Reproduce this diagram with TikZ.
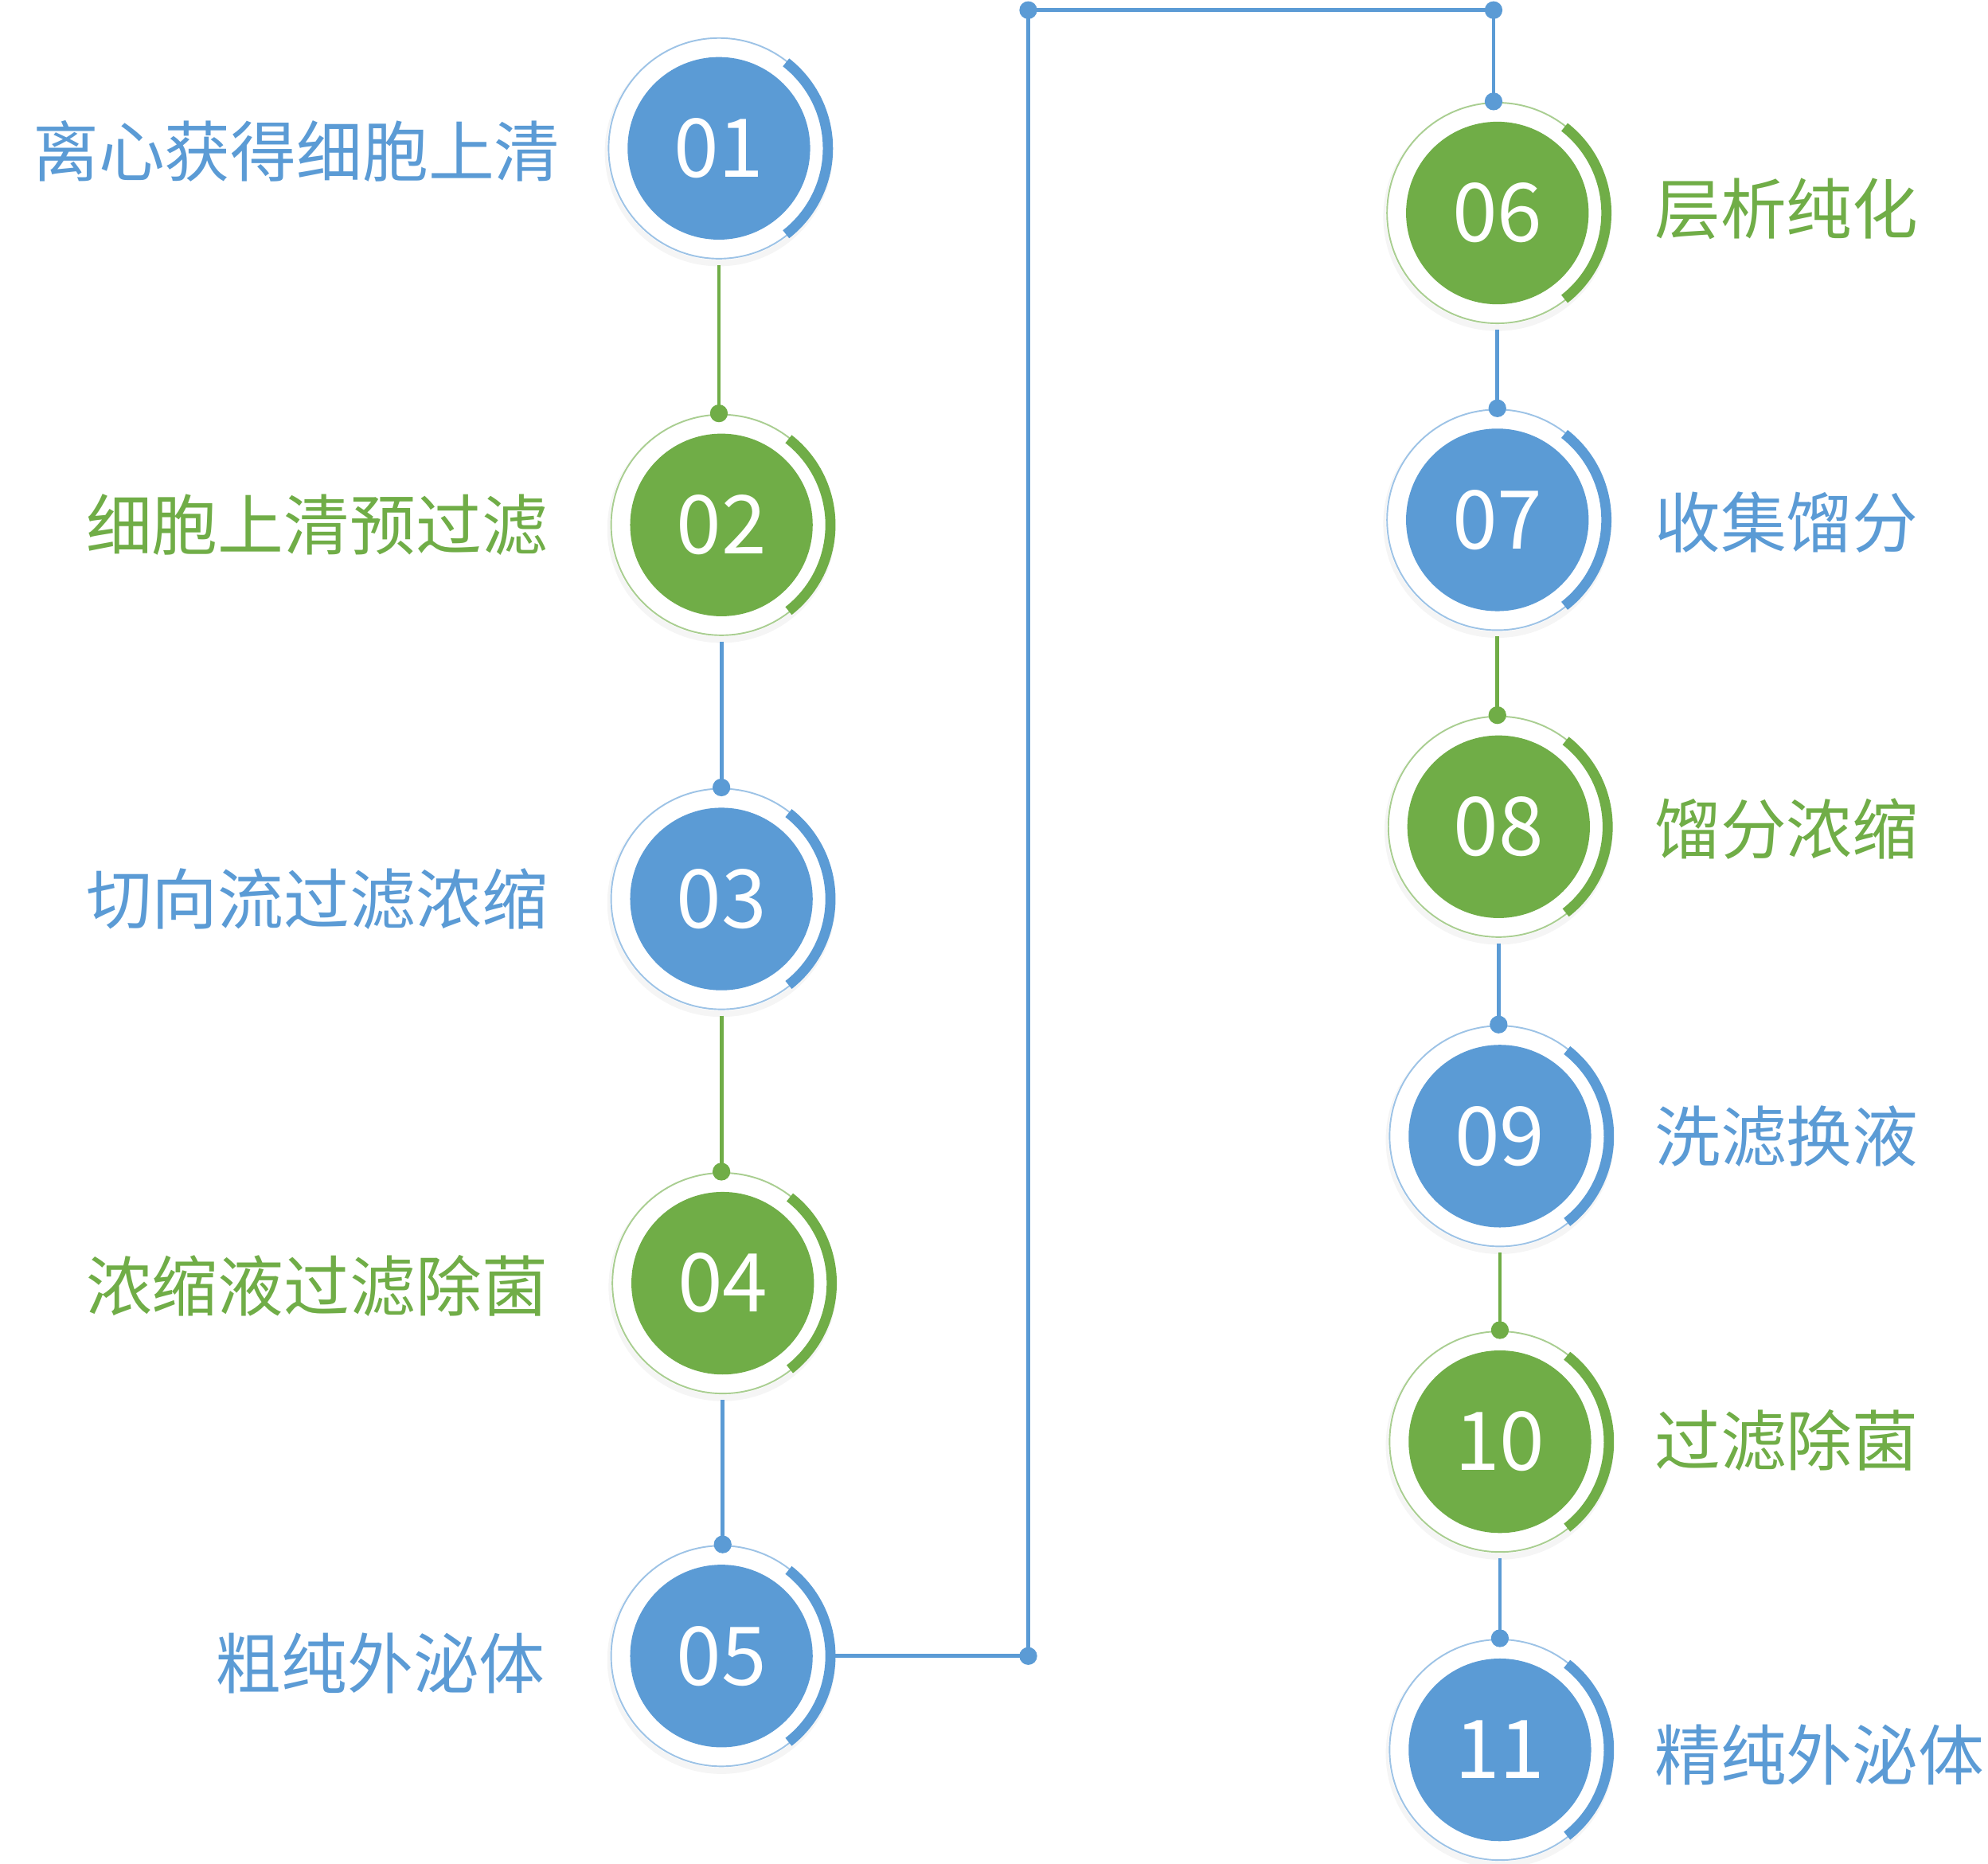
\documentclass[tikz,border=0pt]{standalone}
\usepackage{fontspec}
\setmainfont{Noto Sans CJK SC}
\usetikzlibrary{calc}
\definecolor{cb}{HTML}{5B9BD5}
\definecolor{cg}{HTML}{70AD47}
\tikzset{
 lbl/.style={font=\fontsize{26}{28}\selectfont},
 num/.style={font=\fontsize{32}{34}\selectfont, text=white},
 con/.style={line width=1.5pt},
 dot/.style={circle,inner sep=0pt,minimum size=7pt},
}
\newcommand{\stepc}[5]{% name, x, y, color, number
 \fill[gray!8] (#2,#3+3) circle (90);
 \fill[white] (#2,#3) circle (88);
 \draw[#4!60, line width=0.6pt] (#2,#3) circle (87);
 \fill[#4] (#2,#3) circle (72);
 \draw[#4, line width=4pt] ($(#2,#3)+(-52:86)$) arc[start angle=-52, end angle=52, radius=86];
 \node[num] (#1) at (#2,#3) {#5};
 \coordinate (#1t) at (#2,#3-88);
 \coordinate (#1b) at (#2,#3+92);
}
\begin{document}
\begin{tikzpicture}[x=0.5pt,y=-0.5pt]
\useasboundingbox (0,0) rectangle (1568,1470);
\stepc{a}{567}{117}{cb}{01}
\stepc{b}{569}{414}{cg}{02}
\stepc{c}{569}{709}{cb}{03}
\stepc{d}{570}{1012}{cg}{04}
\stepc{e}{569}{1306}{cb}{05}
\stepc{f}{1181}{168}{cg}{06}
\stepc{g}{1181}{410}{cb}{07}
\stepc{h}{1182}{652}{cg}{08}
\stepc{i}{1183}{896}{cb}{09}
\stepc{j}{1183}{1137}{cg}{10}
\stepc{k}{1183}{1380}{cb}{11}
\newcommand{\link}[3]{\draw[con,#3] (#1b) -- (#1b |- #2t); \node[dot,fill=#3] at (#1b |- #2t) {};}
\link{a}{b}{cg}
\link{b}{c}{cb}
\link{c}{d}{cg}
\link{d}{e}{cb}
\link{f}{g}{cb}
\link{g}{h}{cg}
\link{h}{i}{cb}
\link{i}{j}{cg}
\link{j}{k}{cb}
\coordinate (p1) at (811,1306);
\coordinate (p2) at (811,8);
\coordinate (p3) at (1178,8);
\coordinate (p4) at (1178,80);
\coordinate (e2) at (656,1306);
\draw[con,cb] (e2) -- (p1) -- (p2) -- (p3) -- (p4);
\foreach \p in {p1,p2,p3,p4} \node[dot,fill=cb] at (\p) {};
\node[lbl,text=cb,anchor=east] (la) at (449,119) {离心获得细胞上清};
\node[lbl,text=cg,anchor=east] (lb) at (439,414) {细胞上清预过滤};
\node[lbl,text=cb,anchor=east] (lc) at (439,709) {切向流过滤浓缩};
\node[lbl,text=cg,anchor=east] (ld) at (439,1014) {浓缩液过滤除菌};
\node[lbl,text=cb,anchor=east] (le) at (437,1312) {粗纯外泌体};
\node[lbl,text=cg,anchor=west] (lf) at (1298,165) {层析纯化};
\node[lbl,text=cb,anchor=west] (lg) at (1298,412) {收集馏分};
\node[lbl,text=cg,anchor=west] (lh) at (1298,654) {馏分浓缩};
\node[lbl,text=cb,anchor=west] (li) at (1298,896) {洗滤换液};
\node[lbl,text=cg,anchor=west] (lj) at (1298,1136) {过滤除菌};
\node[lbl,text=cb,anchor=west] (lk) at (1298,1384) {精纯外泌体};
\end{tikzpicture}
\end{document}
